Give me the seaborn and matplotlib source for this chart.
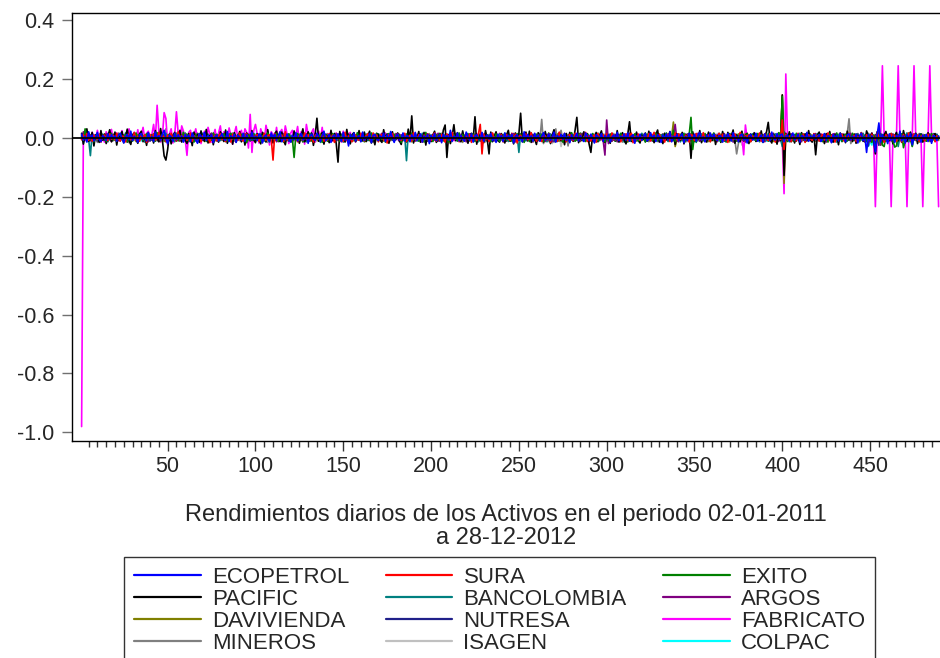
import numpy as np
import pandas as pd
import matplotlib
matplotlib.use("Agg")
import matplotlib.pyplot as plt
import seaborn as sns

# rendimientos diarios en milesimas (0.001), 20 observaciones por fila, 489 obs
ecopetrol = """
12 -8 5 -15 20 -3 9 -11 4 18 -6 -14 7 2 -9 13 -5 10 -2 6
-12 8 15 -4 -18 3 11 -7 22 -10 5 -3 -16 9 14 -6 1 -11 17 -8
4 -13 19 -2 7 -9 12 25 -5 -20 8 3 -12 15 -7 10 -4 6 -15 11
-3 9 -14 16 2 -8 -19 13 5 -6 18 -10 7 -2 12 -17 4 9 -11 3
14 -5 -9 21 -13 6 -3 11 -16 8 2 -7 15 -12 10 -4 -8 19 -6 5
-10 13 7 -18 4 9 -5 -12 16 -3 11 -9 6 20 -14 2 -7 12 -4 -15
8 -6 17 -11 3 14 -8 -2 10 -19 6 12 -5 -9 15 3 -13 7 22 -10
-4 11 -16 5 9 -7 13 -3 -12 18 -8 4 -28 10 -6 16 -11 2 7 -14
19 -9 3 -5 14 -17 8 11 -4 -10 6 -2 15 -13 9 -7 21 -3 -16 5
12 -8 -3 16 -11 7 4 -14 10 -6 18 -9 2 13 -15 6 -4 11 -20 8
-5 14 -10 3 9 -17 12 -2 7 -8 25 -13 5 -4 16 -11 8 -6 -12 19
3 -9 13 -15 6 10 -3 -7 18 -12 4 9 -5 14 -10 2 -16 11 -4 7
-13 16 -6 8 -2 12 -18 5 10 -9 3 -14 20 -7 11 -4 6 -11 15 -3
9 -12 4 17 -8 -5 13 -10 2 19 -15 7 -3 11 -6 14 -9 5 -17 10
-7 3 15 -11 8 -4 -13 16 6 -9 12 -2 -18 10 4 -6 14 -12 7 -5
11 -15 2 9 -7 18 -10 5 -3 13 -8 16 -12 4 10 -19 6 -5 12 -9
4 14 -11 -6 17 -2 8 -13 10 3 -16 9 -4 12 -8 20 -14 5 -3 11
-9 6 13 -17 4 -10 15 -5 -2 11 -12 7 18 -8 3 -14 9 -6 16 -4
12 -3 -10 7 5 -15 10 -8 14 -2 -11 17 -6 4 -13 8 12 -9 3 -18
6 11 -7 -4 15 -12 2 9 -16 13 -5 8 -10 19 -3 -8 14 -6 10 12
-14 5 9 -11 3 16 -8 -2 12 -15 7 4 -9 18 -12 6 -3 11 -7 2
10 -13 -5 14 -9 7 3 -17 12 -4 8 -11 15 -6 2 -14 9 13 -8 5
-6 12 -18 7 15 -10 4 -50 10 -12 6 -3 -48 8 50 -15 11 -7 3 -20
13 -9 5 -16 8 -4 22 -11 6 -18 10 -5 14 -24 3 12 -8 7 -15 9
-4 11 -13 6 -19 8 3 -10 5
"""

sura = """
-7 10 -3 14 -9 5 -12 8 2 -6 11 -15 4 9 -2 -10 13 -5 7 -8
15 -4 -11 6 3 -14 9 12 -7 -3 17 -9 5 -12 8 -2 10 -16 4 11
-5 13 -8 -2 18 -10 6 3 -13 9 -4 15 -7 1 -11 20 -6 8 -3 12
-9 4 16 -12 7 -5 -2 11 -14 6 10 -8 3 -17 13 -4 9 -10 5 14
-6 2 -13 10 8 -15 12 -3 5 -9 16 -7 -11 4 13 -2 -8 18 -5 7
11 -12 3 -6 15 -9 7 10 -4 -76 14 -10 6 -3 9 -13 20 -8 2 -11
5 -3 12 -14 8 3 -9 16 -6 11 -10 4 -15 7 13 -5 -2 10 -12 6
-8 14 -4 9 -16 5 11 -7 3 -12 18 -10 6 -2 -14 12 8 -5 -9 15
2 -11 7 13 -6 -10 16 -3 9 -14 5 11 -8 4 -18 10 -2 14 -7 3
12 -5 -9 6 15 -13 2 8 -11 17 -4 -7 10 3 -15 9 -6 13 -3 -10
7 16 -12 4 -8 11 -2 -15 13 5 -9 18 -6 -3 10 -14 7 2 -11 9
-4 12 -16 8 3 -10 14 45 -55 12 -7 4 -13 9 16 -5 -10 6 -2 11
-14 7 10 -3 -9 15 -6 12 -18 4 8 -11 3 13 -7 -4 17 -9 5 -12
9 -2 -13 11 6 -8 14 -16 3 10 -5 -12 19 -7 2 8 -14 6 11 -3
-10 15 4 -9 12 -6 -3 18 -13 7 -11 5 9 -15 14 -2 -7 10 -4 13
6 -12 16 -5 -8 11 2 -14 9 -3 13 -10 7 15 -17 4 -6 12 -9 3
-2 10 -7 14 -11 5 18 -9 -4 12 -6 3 -15 8 11 -13 6 -2 16 -8
13 -6 4 -12 9 -3 -15 11 7 -10 14 -4 2 -8 17 -11 5 9 -14 6
-3 8 -11 15 -5 12 -9 2 -16 10 6 -7 13 -4 -12 18 -2 -10 7 4
11 -14 6 -3 9 -8 16 -12 3 13 -5 -9 14 -2 7 -15 10 4 -6 60
-40 12 -7 5 -13 9 3 -11 15 -4 -8 12 -16 6 10 -3 -9 14 -5 7
-12 4 11 -8 -2 16 -10 6 13 -15 3 -6 9 12 -11 5 -4 15 -9 2
8 -13 5 -4 17 -7 -11 10 3 -14 12 -2 -9 15 6 -10 4 -16 11 -5
-6 14 -3 9 -12 7 2 -15 11 -8 4 16 -10 -3 13 -6 9 -13 5 8
-11 3 12 -7 -4 10 -14 6 -2
"""

exito = """
5 -9 30 -4 12 -7 3 -14 8 11 -5 -10 6 2 -13 9 -3 15 -8 4
-11 7 14 -6 -2 10 -15 5 9 -12 3 16 -7 -4 11 -9 6 13 -3 -10
8 -5 -12 17 4 -8 11 -3 -14 6 10 -2 -9 13 5 -11 7 -6 18 -4
12 -10 3 9 -15 6 -4 14 -8 2 11 -13 7 -5 -9 16 -2 10 -12 4
-7 13 -3 -11 8 15 -6 4 -14 10 -2 12 -9 5 -17 9 3 -8 14 -5
10 -4 -13 7 2 -10 16 -6 11 -3 -8 14 -12 5 9 -15 6 -2 13 -7
-3 -67 8 12 -9 4 -14 10 6 -5 15 -11 3 -7 12 -2 9 -16 5 11
-12 6 -4 14 -8 -3 11 -13 7 10 -6 4 -15 12 -2 9 -10 17 -5 3
8 -14 11 -4 -9 16 -7 5 13 -11 2 -6 10 -15 7 14 -3 -8 12 -5
4 11 -16 9 -3 12 -10 -5 15 -8 6 3 -12 10 -4 -14 18 -7 2 9
-13 5 10 -7 14 -3 -11 8 4 -15 12 -6 9 -2 -10 16 -5 11 -8 3
14 -9 -2 12 -13 7 5 -11 16 -4 -8 10 3 -14 9 -6 13 -3 -12 8
-5 15 -10 3 9 -12 6 -4 14 -9 11 -2 -16 8 5 -13 10 -7 4 12
-8 4 11 -14 7 -3 16 -10 2 13 -6 -11 9 5 -15 12 -4 8 -9 17
3 -12 -6 10 15 -8 4 -13 11 -2 -9 14 -5 7 -11 6 12 -4 -14 9
-10 13 6 -3 -12 9 -7 15 -5 2 11 -14 8 -9 4 13 -6 -11 10 -2
7 -15 12 -4 9 -10 3 14 -8 5 -13 11 -2 16 -9 6 -5 25 -12 8
-4 10 -7 15 -11 3 12 69 -40 9 -14 5 11 -3 -10 14 -6 8 -13 4
16 -7 -3 11 -12 6 9 -15 4 13 -8 -2 10 -11 7 -5 15 -9 3 12
-6 -13 8 4 -10 14 -5 11 -16 7 2 -12 13 -4 9 -8 6 17 -3 140
-20 10 -13 5 8 -6 -11 15 3 -9 12 -4 -14 7 10 -2 -8 13 -5 6
11 -4 -12 9 3 -15 14 -7 5 -10 16 -3 8 -13 2 12 -9 4 -6 15
-8 12 -5 -10 14 -3 7 -13 10 4 -16 9 -2 11 -7 13 -25 -30 8 -12
6 14 -9 -32 -28 10 -6 13 -34 -11 8 15 -5 -30 12 -7 3 -14 10 -4
9 -12 5 -8 14 -3 -10 7 -5
"""

pacific = """
15 -22 8 30 -12 -5 18 -28 10 3 -16 24 -9 12 -20 6 27 -14 -3 19
-25 11 -7 21 -17 4 29 -10 -23 8 16 -4 -19 13 22 -12 5 -26 17 -6
9 -18 24 -2 -14 31 -9 -62 -76 -40 12 -21 7 18 -11 -4 25 -15 10 -8
-20 14 3 -27 19 -6 11 -16 23 -3 -12 28 -18 6 15 -24 9 -1 -15 20
7 -13 26 -19 4 12 -22 17 -8 -3 21 -14 10 -25 16 5 -11 24 -7 -17
13 -4 -21 18 9 -15 27 -10 2 -18 14 22 -6 -13 19 -9 -24 11 6 -2
-16 23 -8 12 -19 5 30 -14 -4 20 -11 16 -26 8 66 -12 -3 18 -22 10
4 -17 25 -9 14 -20 -83 21 -6 11 -15 28 -3 -21 9 17 -12 -5 24 -10
-7 19 -13 6 22 -18 3 -24 15 10 -8 -16 27 -4 13 -19 8 20 -11 -2
16 -10 -23 11 5 -14 29 -7 74 -18 9 -3 21 -15 -6 18 -25 12 4 -13
8 22 -16 -5 14 -11 26 43 -67 10 -20 6 44 -9 17 -3 -14 23 -8 11
-19 7 15 -4 71 -22 12 -10 5 -17 24 -6 -55 19 -13 3 20 -9 -15 14
-2 -18 10 25 -12 6 -21 16 -7 13 83 -14 -4 19 -10 22 -16 8 -5 -23
17 -9 4 -15 21 -6 12 -20 9 27 -13 -3 16 -11 6 -24 14 -8 18 -4
-12 25 69 -17 7 -10 20 -5 13 -22 -50 11 -3 18 -14 8 23 -9 -16 5
10 -19 14 -6 -11 24 -15 3 17 -8 -21 12 54 -13 6 -4 19 -10 -18 9
-5 16 -12 22 -8 4 -17 11 26 -14 2 -20 15 -7 -3 21 -11 9 -23 13
6 -9 18 -21 12 -4 15 -70 20 -13 8 -6 24 -17 3 11 -15 19 -2 -10
14 -23 7 10 -16 21 -5 -12 18 -8 4 26 -19 9 -3 -14 22 -11 6 15
-20 12 -4 17 -13 5 -9 23 -15 8 19 52 -7 -18 11 3 -22 16 -10 145
-128 15 -9 20 -14 6 -18 11 3 -23 17 -5 13 -11 24 -7 -15 10 -58 8
19 -12 4 -20 14 -6 21 -9 -15 11 7 -24 16 -3 10 -17 22 -8 5 -13
12 -19 8 -4 17 -10 -14 23 6 -11 15 -7 -55 20 -3 13 -16 9 21 -12
-8 14 -21 5 18 -11 7 -16 24 -5 -13 10 19 -9 -4 15 -20 6 12 -15
4 -10 17 -6 -13 9 14 -8 3
"""

bancolombia = """
8 -12 4 10 -5 -61 14 -7 3 -10 9 -3 12 -8 5 -14 7 11 -4 -9
13 -6 -2 9 -11 16 -8 4 -13 7 10 -5 -9 12 -3 6 -15 8 2 -10
-4 14 -9 5 11 -12 3 -7 15 -2 -10 8 6 -14 12 -5 9 -3 -11 16
7 -8 -13 10 4 -6 13 -11 2 15 -9 -4 11 -7 5 -16 8 12 -3 -10
-2 11 6 -14 9 -5 -10 16 -7 3 12 -12 4 8 -15 10 -3 -6 13 5
10 -7 13 -4 -11 8 2 -15 11 -6 9 3 -13 14 -8 -2 12 -10 5 7
-9 4 -5 15 -12 6 10 -3 -14 9 -7 13 2 -10 8 11 -16 5 -4 12
6 -13 9 -2 14 -8 -5 11 7 -15 3 10 -9 4 -12 16 -6 -3 13 -7
-11 5 12 -9 3 -14 10 6 -4 13 -10 -7 15 -2 8 -12 4 11 -6 -3
14 -8 4 -10 7 -78 13 -5 9 -3 11 -12 6 -9 15 -4 -7 10 3 -13
2 12 -9 -6 14 -11 5 8 -15 10 -3 -8 13 4 -12 7 -5 16 -10 3
-7 9 -12 13 -4 6 -14 10 3 -9 15 -6 -2 11 -13 8 5 -10 12 -4
11 -5 8 -13 -3 14 -9 6 10 -50 12 -7 4 -11 9 -2 15 -12 -5 8
-6 13 -10 3 9 -14 7 12 -4 -8 5 -13 16 -9 2 10 -6 -11 14 4
-12 6 3 -9 15 -5 -11 8 13 -3 -7 12 -14 10 4 -10 9 -2 -13 11
5 -10 14 -7 -4 11 -13 9 2 -15 8 6 -9 13 -3 -12 10 4 -8 15
-3 8 -11 12 6 -9 -5 16 -12 3 10 -7 14 -4 -13 9 5 -10 11 -6
12 -14 4 -3 10 -8 13 -11 7 2 -16 9 -5 12 8 -10 -4 14 -9 6
-8 11 -6 15 -13 4 9 -7 -12 14 3 -10 6 11 -15 -4 13 -9 5 10
4 -12 13 -8 -5 12 -14 6 10 -3 -9 15 -11 7 -2 13 -10 8 -6 -30
20 -9 11 -14 6 3 -12 10 -5 15 -8 -3 12 -10 4 9 -13 7 -6 14
-10 5 -3 12 -9 14 -6 -11 8 3 -15 10 -4 13 -8 6 -12 11 2 -7
9 -14 12 -5 -8 15 -2 -12 10 6 -10 4 -13 8 13 -16 7 -4 11 -9
-5 10 -11 7 14 -30 3 12 -9 -6 16 -14 5 -28 11 -3 -10 9 13 -8
6 -12 8 -4 -9 13 -5 10 -3
"""

argos = """
-6 20 9 -11 4 -8 13 -3 7 -12 5 10 -7 -2 14 -9 3 -13 8 6
11 -5 -10 14 -4 7 -15 9 2 -8 12 -3 -11 6 13 -7 -2 10 -14 5
-9 3 12 -6 -13 8 10 -4 5 -15 11 -2 7 -10 14 4 -12 9 -5 13
7 -14 -3 11 6 -9 15 -5 -12 3 10 -7 12 -4 -8 14 2 -11 9 -6
-3 10 -12 5 13 -7 -4 9 -15 11 6 -10 3 14 -9 -2 12 -6 8 -13
14 -2 -9 7 -11 12 3 -13 8 -5 10 -14 6 2 -10 13 -7 4 11 -8
-5 9 4 -12 10 -3 -14 6 13 -8 -2 11 -9 15 -4 7 -11 3 12 -10
8 -11 13 -4 -7 14 -10 2 9 -13 5 -3 12 -8 6 11 -15 4 -6 10
-12 6 -3 13 8 -10 5 -14 11 -2 -9 15 -5 7 -13 3 10 -8 -4 14
3 -13 10 -6 12 -4 -9 8 -2 14 -11 7 4 -15 9 -5 13 -10 6 -3
11 -8 -4 15 -12 5 9 -3 -13 10 2 -7 14 -10 -5 12 -9 6 3 -14
-7 13 6 -10 4 -14 11 7 -3 -9 15 -6 -12 8 3 -11 10 -2 13 -5
9 -4 -12 11 -8 3 14 -13 6 -3 10 -9 -5 13 -11 7 2 -15 12 -6
-10 14 3 -6 -13 9 -2 11 -14 5 8 -10 12 -3 -7 15 -9 4 -12 10
5 -9 12 -3 -11 14 -5 -8 10 -13 6 11 -4 -14 9 -6 13 -10 -59 60
-20 8 -12 6 10 -14 3 12 -9 -4 11 -7 15 -11 4 -2 13 -8 -6 12
8 -13 5 10 -4 -11 14 -6 3 -15 9 12 -10 -3 13 -7 -12 11 45 -9
-14 6 11 -8 -5 13 -10 4 12 -9 -3 15 -12 7 2 -13 10 -6 9 -4
12 -7 -13 9 4 -10 14 -3 -11 8 6 -15 11 -5 -8 13 -2 10 -14 7
-3 11 -8 14 -12 5 -6 13 9 -14 -4 10 -11 6 15 -9 3 -13 12 -20
15 -11 4 -6 13 -9 -12 10 7 -3 -14 12 -5 8 11 -10 4 -7 14 -2
-9 13 -4 11 -15 6 8 -12 3 14 -7 -2 10 -13 12 5 -10 -6 15 -8
6 -10 14 -5 -3 12 -13 9 4 -11 16 -8 -6 13 30 -25 10 -4 -12 11
-11 7 12 -14 5 -9 3 13 -6 -10 15 -4 -12 11 8 -7 -3 14 -13 6
10 -5 -8 13 -11 4 9 -6 -2
"""

davivienda = """
5 -3 8 -7 2 10 -6 -4 9 -11 3 7 -5 12 -8 -2 6 -10 4 11
-8 6 -12 3 9 -5 -2 11 -9 4 7 -13 10 -3 -6 8 2 -11 13 -4
7 -10 4 12 -6 -3 9 -12 5 8 -7 2 -11 10 -4 6 13 -9 -2 5
-12 9 -3 6 -8 14 -5 -10 7 3 -13 11 -6 4 9 -2 -11 8 -7 12
3 -6 11 -13 5 -9 8 4 -12 10 -3 -7 13 -5 2 -10 7 12 -8 -4
10 -12 5 8 -4 -11 13 -7 3 6 -10 9 -2 -13 11 -5 4 -8 12 -3
-6 11 -9 4 12 -7 -3 10 -13 5 8 -11 2 9 -6 -12 14 -4 7 -9
12 -4 7 -10 3 -8 11 -5 -9 13 -2 6 -12 8 4 -11 10 -3 -7 5
-9 8 -13 11 -3 6 -7 12 -4 -10 9 3 -12 7 -5 13 -8 2 10 -6
6 -11 3 -5 12 -9 8 -2 -14 10 5 -7 11 -4 -10 9 -3 13 -6 4
-4 13 -7 9 -11 2 10 -8 5 -12 7 14 -5 -3 11 -9 6 -13 8 -2
11 -6 -10 4 8 -13 5 12 -9 -3 10 -7 3 -11 13 -4 -8 9 -5 7
-13 5 9 -8 -4 11 -12 6 3 -10 14 -7 -2 12 -9 4 8 -11 5 -6
8 -10 12 -3 -9 7 4 -13 10 -5 -7 13 -11 6 2 -12 9 -4 11 -8
-5 12 -8 10 -13 3 6 -9 14 -4 -11 8 5 -12 10 -6 -3 12 -10 7
9 -3 -12 7 11 -8 -5 13 -10 4 6 -14 9 -2 -7 12 -11 5 8 -9
-7 13 4 -11 6 -2 -10 9 -13 12 -4 8 -9 3 11 -12 5 53 -30 -6
12 -9 6 -4 -11 10 -7 14 -3 -12 8 5 -10 13 -6 -2 9 -13 7 11
-10 4 -13 8 12 -5 -9 6 11 -14 3 -7 10 -4 13 -11 5 -8 14 -6
7 -12 9 -3 -8 13 -10 4 6 -11 12 -5 -2 9 -13 8 11 -7 -4 145
-155 10 -8 5 12 -11 3 -6 9 -13 7 11 -10 4 -5 12 -9 6 -12 8
-3 9 -14 11 -6 4 13 -8 -10 7 3 -12 10 -5 8 -11 14 -4 -9 6
12 -7 5 -13 9 -2 -10 11 4 -12 8 -6 -30 13 -9 -25 -4 10 -11 7
-8 13 -5 9 -11 6 -3 12 -14 10 -7 4 11 -9 -2 13 -12 8 5 -10
6 -4 10 -13 8 -7 12 -3 -9
"""

nutresa = """
-4 7 -2 9 -6 3 -8 5 10 -3 -7 6 2 -9 8 -5 4 -10 7 1
6 -8 3 -5 10 -2 7 -9 4 -6 11 -3 -7 8 2 -10 5 9 -4 -1
-7 5 9 -3 -10 6 -4 12 -8 3 7 -5 -2 10 -9 4 -6 8 3 -11
9 -2 -6 8 4 -11 7 -3 5 -9 10 2 -8 6 -4 11 -7 3 -5 9
-3 10 -8 4 6 -5 -12 9 2 -7 8 -10 5 3 -6 12 -4 -9 7 4
8 -6 5 -11 3 9 -2 -8 10 -4 6 -7 11 -3 -9 5 8 -2 -12 6
-9 4 11 -6 -3 8 -10 5 7 -2 -11 9 -5 12 4 -8 -3 10 -6 2
5 -11 7 3 -8 10 -4 -6 12 -9 2 6 -10 4 8 -3 -7 11 -5 9
-6 9 -3 -10 5 7 -12 4 -2 11 -8 3 9 -5 -11 6 10 -4 2 -7
10 -3 -9 6 -5 12 -7 2 8 -10 4 -6 11 -2 -8 7 3 -12 9 -4
-8 6 4 -12 10 -3 5 -9 7 2 -11 8 -4 -6 12 -5 3 9 -10 5
3 -9 12 -5 -7 9 2 -10 6 -3 8 -12 5 10 -6 -2 11 -8 4 -5
-11 7 -4 10 3 -8 6 -2 -9 12 -5 4 -10 7 9 -3 -6 11 -7 2
6 -10 9 -4 -2 11 -8 5 3 -12 10 -6 7 -3 -9 8 2 -11 12 -4
-5 8 3 -11 9 -6 -3 12 -8 4 6 -10 2 11 -7 -4 9 -12 5 7
10 -4 -8 5 -12 7 11 -3 -6 9 -10 3 12 -7 4 -11 6 -2 8 -9
-2 12 -6 3 8 -10 4 -9 11 -5 7 -12 6 2 -8 10 -4 -7 9 3
7 -7 10 -12 5 -3 -9 8 4 -11 12 -5 -2 9 -10 6 3 -8 11 -4
-9 5 -2 11 -6 9 -12 3 7 -4 -10 8 5 -11 2 12 -7 4 -3 10
4 -10 8 -5 12 -8 3 6 -11 10 -2 -7 9 -12 5 11 -4 -6 8 20
-25 7 -11 9 3 -6 10 -12 5 -3 8 -9 11 -4 -7 12 -2 6 -10 5
9 -3 -7 12 -9 4 -5 10 -11 6 3 -12 8 -2 11 -8 5 -4 9 -10
-6 11 4 -9 7 -12 9 -3 -28 12 -5 -8 10 3 -26 7 -4 11 -9 5
3 -8 12 -5 -10 9 -2 7 -12 4 10 -6 -3 11 -9 5 8 -11 6 -4
-7 10 -3 8 -11 5 -6 12 -2
"""

fabricato = """
-980 15 -10 22 8 -12 18 5 -6 25 -9 14 3 -15 20 -4 11 28 -7 9
16 -11 6 24 -5 12 -14 30 4 -8 19 -3 27 -10 8 35 -6 15 22 -12
10 45 -8 110 20 -15 5 85 65 -25 12 30 -18 8 88 15 -10 40 22 -6
-60 18 25 -12 10 30 -5 14 -20 8 22 -9 35 12 -15 6 28 -11 16 40
-8 20 12 -14 33 9 -22 15 38 -6 11 25 -10 30 18 -35 79 -50 24 45
12 -18 30 8 -10 42 15 -25 20 10 -8 35 -14 18 28 -6 40 12 -20 15
25 -10 8 38 -12 20 14 -22 45 10 -8 18 30 -15 12 22 -5 35 -18 9
14 -6 20 -12 8 16 -4 10 -15 22 6 -9 12 18 -7 5 -11 15 9 -3
8 -10 5 14 -6 3 -12 9 7 -4 11 -8 2 15 -5 10 -9 4 6 -2
-7 12 3 -10 8 -4 14 -6 2 9 -12 5 7 -3 10 -8 4 13 -5 1
6 -9 11 -3 -7 10 4 -12 8 2 -5 13 -10 6 3 -8 12 -4 9 -6
2 10 -7 5 -11 14 -3 8 -6 12 4 -9 7 -2 11 -5 3 -10 15 -4
8 -6 3 12 -9 5 -2 10 -7 4 11 -12 6 -3 9 -8 14 2 -5 7
-10 6 9 -4 3 -11 8 12 -6 2 -9 5 10 -3 7 -12 4 -5 11 -2
9 -7 4 13 -8 2 -5 10 -12 6 3 -9 8 11 -4 -6 12 -3 5 -10
7 -2 11 -8 4 9 -12 6 -3 10 -5 2 13 -9 5 -6 8 12 -4 -7
3 10 -6 5 -11 8 2 -9 12 -4 7 -2 10 -8 4 14 -5 -10 6 9
-3 8 12 -7 5 -10 3 9 -6 11 -4 2 -8 13 6 -5 10 -12 4 7
-9 5 11 -3 8 -6 2 -10 12 4 -7 9 -4 6 -12 10 3 -58 43 -5
8 -4 11 -7 3 9 -12 5 -2 10 -6 4 12 -8 6 -3 9 -5 2 -10
-190 216 -8 5 12 -6 3 -10 8 -4 11 -2 7 -9 4 10 -5 3 -7 6
2 -6 9 -3 5 -8 4 10 -5 2 -7 6 -2 8 -4 3 -9 5 7 -3
4 -8 6 -2 9 -5 3 -7 5 -3 2 0 -234 0 0 0 244 0 0 0
0 -234 0 0 0 244 0 0 0 0 -234 0 0 0 244 0 0 0 0 -234
0 0 0 244 0 0 0 0 -234
"""

mineros = """
10 -14 6 -8 17 -3 -12 9 4 -16 13 -5 8 -10 2 15 -7 -11 12 -4
-9 16 -3 11 -13 5 8 -17 3 12 -6 -10 14 -2 9 -15 6 10 -8 -12
7 -5 13 -11 4 18 -9 -3 30 -14 6 11 -7 -12 16 -4 9 25 -10 3
-15 8 4 -10 14 -6 -2 12 -13 9 17 -8 3 -11 6 -16 10 5 -4 13
-6 11 -14 7 2 -9 16 -12 8 5 -10 14 -3 -7 12 -15 4 9 -11 6
14 -8 3 -13 10 6 -16 4 11 -5 -9 15 -2 8 -12 3 13 -6 -10 9
-4 12 -10 5 -15 9 7 -3 -12 16 -6 2 11 -14 5 8 -9 13 -3 -11
8 -13 15 -6 4 -10 12 -2 -14 9 6 -8 13 -4 -11 17 -5 3 10 -12
-7 9 -3 14 -11 5 -16 10 7 -4 12 -9 2 15 -13 6 -5 11 -8 4
13 -5 -10 8 3 -14 11 -7 16 -2 -9 12 -6 4 10 -15 7 -3 14 -10
-11 6 12 -4 -8 15 -3 9 -13 5 11 -7 -2 14 -10 3 8 -16 6 12
4 -12 9 -6 13 -3 -10 16 -8 2 -14 7 11 -5 -9 12 -4 10 -13 5
-8 14 -5 10 -12 3 7 -15 11 -2 -6 13 -10 4 9 -11 16 -7 2 -14
9 -4 62 -20 -6 11 -13 5 8 -16 30 -9 -12 25 -5 -18 14 -28 10 -4
6 -11 13 -3 -9 15 -7 4 10 -14 2 12 -8 -5 16 -10 6 -2 11 -13
-5 10 -7 14 -12 4 9 -3 -15 11 5 -9 13 -6 -2 12 -11 7 -14 8
12 -9 4 -13 7 10 -5 -11 15 -3 8 -14 6 2 -10 13 -7 -4 11 -12
-3 13 -10 6 -15 9 -2 12 -8 4 14 -11 3 -6 10 -13 7 16 -9 5
10 -6 -12 8 3 -14 11 -5 9 -10 15 -3 -8 -55 -20 10 -4 12 -16 6
-13 7 11 -4 -9 14 -2 10 -15 5 8 -11 13 -6 3 -12 9 -5 16 -7
5 -10 14 -3 -12 8 10 -6 2 -15 11 -4 7 -9 13 -2 -11 6 12 -8
14 -5 -9 11 -13 4 8 -16 10 -3 -7 12 5 -11 9 -4 15 64 -20 -6
-10 12 6 -14 3 9 -7 -12 15 -2 4 -9 11 -5 13 -8 -3 10 -13 7
8 -13 5 10 -6 -11 14 -4 9 -15 3 12 -8 -2 11 -10 6 -14 13 -5
-9 11 -4 7 -12 14 -3 -8 6
"""

isagen = """
6 -9 3 12 -5 -8 10 -2 7 -11 4 9 -6 -3 13 -10 5 8 -12 2
-7 11 -4 8 -13 6 2 -9 14 -5 -10 7 3 -12 9 -2 11 -8 5 -6
10 -3 -11 5 9 -7 13 -14 4 8 -6 -2 12 -10 6 3 -9 15 -4 -11
3 -12 8 -5 11 2 -9 7 -13 10 -4 6 -8 14 -2 -11 9 4 -7 12
-10 5 -3 13 -8 -12 6 11 -2 -9 14 -6 4 8 -13 7 -5 10 3 -11
8 -4 12 -9 2 7 -14 5 -6 11 -3 10 -12 4 9 -7 -2 13 -10 6
-5 13 -8 4 -11 9 3 -12 10 -2 -7 14 -4 6 -13 11 2 -9 8 -3
12 -6 -2 10 -14 5 8 -10 3 -7 13 -4 9 -12 6 -3 11 -8 -5 14
-3 7 -12 9 5 -8 11 -4 -10 13 2 -6 10 -14 4 8 -11 6 -2 12
9 -13 4 -6 12 -3 -9 14 -5 7 -11 3 10 -8 -4 12 -13 5 9 -2
-8 10 -5 13 -10 3 6 -12 11 -4 -7 9 2 -13 14 -6 5 -9 8 3
11 -4 -10 6 8 -13 3 12 -7 -2 10 -11 5 9 -14 4 -6 13 -3 -9
-6 12 7 -11 3 -5 14 -9 -2 10 6 -13 9 -4 -8 11 -12 5 12 -7
4 -10 13 -3 -12 8 -6 11 -20 25 -14 5 12 -30 -7 13 -4 9 -11 6
-13 6 9 -8 11 -2 -10 13 4 -12 7 -5 14 -9 2 10 -6 -3 12 -11
5 -9 -4 12 -7 10 -13 3 8 -6 11 -2 -11 14 -5 6 9 -12 4 -8
10 -3 11 -14 6 -8 4 12 -10 2 -5 13 -9 7 -12 3 11 -6 -4 13
-11 8 -6 10 3 -13 12 -2 -8 14 -5 4 -12 9 6 -10 -3 11 -7 5
7 -12 14 -4 -9 6 -11 10 2 -7 13 -8 -3 12 -10 5 -25 8 -6 -2
-4 10 -8 13 -11 3 7 -14 9 -2 -6 12 -9 4 11 -13 6 -5 10 40
-20 5 12 -10 7 -4 -12 9 3 -8 14 -6 -2 11 -13 6 10 -7 4 -11
13 -7 -3 9 -12 10 5 -14 7 -2 11 -9 4 -6 12 -10 3 30 -15 8
-9 4 11 -6 8 -13 6 -3 12 -10 2 9 -11 13 -5 -8 10 4 -12 7
3 -11 9 -5 13 -8 -2 12 -10 6 -4 10 -13 5 8 -6 11 -9 -3 14
-7 9 -12 4 10 -5 -2 8 -10
"""

colpac = """
3 -20 7 -5 9 -3 -8 6 2 -10 8 -4 5 -7 10 -2 -9 4 6 -5
-6 9 -2 5 -8 11 -4 3 -10 7 2 -6 9 -3 -11 8 4 -7 10 -2
7 -4 -9 10 3 -6 8 -11 5 -2 9 -7 4 11 -5 -3 8 -10 6 2
-8 5 10 -3 -7 9 -2 6 -12 4 8 -5 -10 7 3 -9 12 -4 -6 10
4 -10 6 -2 11 -7 3 -9 8 5 -4 10 -8 2 -11 6 9 -3 -7 12
-5 8 -11 9 2 -6 10 -3 -8 12 -2 5 -9 7 4 -12 6 -4 11 -7
9 -3 4 -10 7 6 -12 8 -5 3 11 -9 2 -6 10 -4 -8 12 -2 5
-7 11 -5 3 -9 8 2 -11 9 -4 6 -10 12 -3 -7 5 10 -8 4 -12
6 -2 9 -8 -4 12 -6 3 10 -11 5 8 -3 -9 11 -5 2 7 -12 4
-3 10 -7 5 9 -12 4 -6 11 -2 -8 6 3 -10 8 -4 12 -9 5 -5
8 -6 -3 11 -10 4 7 -9 2 12 -5 -8 10 -3 6 -11 4 9 -7 2
-10 5 12 -4 -8 9 -2 6 -11 3 10 -7 5 -12 8 2 -6 11 -3 -9
7 -11 4 8 -5 -3 10 -9 6 -2 12 -7 -4 9 -10 5 3 -8 11 -6
-4 9 -8 3 12 -10 5 -6 11 -3 -9 7 2 -12 10 -5 8 -2 -11 6
10 -5 3 -9 6 11 -12 4 -7 9 -2 -10 8 5 -11 12 -4 -6 7 -3
-9 6 -4 12 -8 3 9 -11 5 -6 10 -2 -12 8 4 -10 11 -3 -7 9
5 -12 8 -3 10 -7 -5 11 -9 2 7 -11 9 -4 -8 12 -3 6 -10 4
-2 7 -10 5 -6 12 3 -9 8 -11 4 10 -7 -3 11 -5 -12 9 2 -8
11 -4 6 -12 9 -2 -8 10 -5 7 -10 3 12 -9 -4 6 -11 8 5 -7
-6 12 -3 8 -11 4 10 -7 -2 9 -12 6 -5 11 3 -10 7 -4 -9 10
4 -9 11 -5 7 -3 12 -10 6 -8 2 9 -12 5 -6 10 -4 11 -7 3
-11 6 -2 10 -8 12 -5 3 -9 11 -4 7 -10 2 8 -12 5 -3 10 -6
9 -7 4 -11 12 -3 -8 6 -30 -12 -25 5 -9 10 -20 7 -5 11 -10 4
-5 11 -9 7 3 -12 10 -4 -8 12 -6 2 9 -11 5 -3 8 -10 6 -2
7 -10 4 -6 12 -8 3 9 -5
"""

names = ["ECOPETROL", "SURA", "EXITO", "PACIFIC", "BANCOLOMBIA", "ARGOS",
         "DAVIVIENDA", "NUTRESA", "FABRICATO", "MINEROS", "ISAGEN", "COLPAC"]
texts = [ecopetrol, sura, exito, pacific, bancolombia, argos,
         davivienda, nutresa, fabricato, mineros, isagen, colpac]
colors = ["#0000ff", "#ff0000", "#008000", "#000000", "#008080", "#800080",
          "#808000", "#20208a", "#ff00ff", "#808080", "#c0c0c0", "#00ffff"]

frames = []
for name, txt in zip(names, texts):
    vals = np.array(txt.split(), dtype=float) / 1000
    frames.append(pd.DataFrame({"obs": np.arange(1, len(vals) + 1),
                                "ret": vals, "serie": name}))
df = pd.concat(frames, ignore_index=True)

sns.set_style("white")
plt.rcParams["font.family"] = ["Liberation Sans", "DejaVu Sans"]
plt.rcParams["axes.unicode_minus"] = False

fig = plt.figure(figsize=(9.4, 6.58), dpi=100)
ax = fig.add_axes([72.3 / 940, 1 - 440.7 / 658, (940 - 72.3) / 940, 428 / 658])

# las primeras series quedan encima
sns.lineplot(data=df, x="obs", y="ret", hue="serie", hue_order=names[::-1],
             palette=dict(zip(names, colors)), estimator=None, sort=False,
             lw=1.2, ax=ax)
ax.axhline(0, color="black", lw=1.3, zorder=5)

ax.set_xlim(-4.3, 489.8)
ax.set_ylim(-1.028, 0.424)
ax.set_yticks([-1.0, -0.8, -0.6, -0.4, -0.2, 0.0, 0.2, 0.4])
ax.yaxis.set_major_formatter(plt.FormatStrFormatter("%.1f"))
ax.set_xticks(range(50, 451, 50))
ax.set_xticks(range(5, 490, 5), minor=True)
ax.set_xlabel("")
ax.set_ylabel("")

for side in ["top", "left", "bottom"]:
    ax.spines[side].set_color("black")
    ax.spines[side].set_linewidth(1.0)
ax.spines["right"].set_visible(False)

ax.tick_params(axis="y", direction="out", length=7.2, width=1, color="#707070",
               labelsize=15.5, pad=5.5, left=True)
ax.tick_params(axis="x", which="major", direction="out", length=7.2, width=1,
               color="#333333", labelsize=15.5, pad=4, bottom=True)
ax.tick_params(axis="x", which="minor", direction="out", length=4.3, width=1,
               color="#333333", bottom=True)

fig.text(506 / 940, 1 - 515 / 658,
         "Rendimientos diarios de los Activos en el periodo 02-01-2011",
         ha="center", va="center", fontsize=17)
fig.text(506 / 940, 1 - 538 / 658, "a 28-12-2012",
         ha="center", va="center", fontsize=17)

# leyenda por filas: matplotlib llena por columnas, asi que se reordena
handles, labels = ax.get_legend_handles_labels()
lookup = dict(zip(labels, handles))
order = [0, 3, 6, 9, 1, 4, 7, 10, 2, 5, 8, 11]
ax.get_legend().remove()
leg = fig.legend([lookup[names[i]] for i in order], [names[i] for i in order],
                 ncol=3, loc="upper left",
                 bbox_to_anchor=(124 / 940, 1 - 556.7 / 658),
                 bbox_transform=fig.transFigure, frameon=True, fancybox=False,
                 edgecolor="#333333", framealpha=1, fontsize=16,
                 handlelength=3.0, handletextpad=0.5, columnspacing=1.65,
                 labelspacing=0.05, borderpad=0.45, borderaxespad=0)
for line in leg.get_lines():
    line.set_linewidth(1.6)

fig.savefig("out.png", dpi=100)
